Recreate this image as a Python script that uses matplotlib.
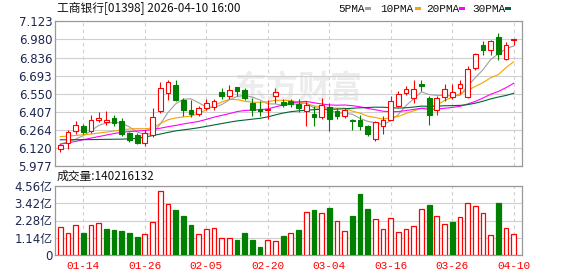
import matplotlib
matplotlib.use("Agg")
import matplotlib.pyplot as plt
from matplotlib.patches import Rectangle
import numpy as np
import pandas as pd

# ---------------- data ----------------
dates = ["01-09", "01-12", "01-13", "01-14", "01-15", "01-16", "01-19", "01-20", "01-21", "01-22",
         "01-23", "01-26", "01-27", "01-28", "01-29", "01-30", "02-02", "02-03", "02-04", "02-05",
         "02-06", "02-09", "02-10", "02-11", "02-12", "02-13", "02-16", "02-20", "02-23", "02-24",
         "02-25", "02-26", "02-27", "03-02", "03-03", "03-04", "03-05", "03-06", "03-09", "03-10",
         "03-11", "03-12", "03-13", "03-16", "03-17", "03-18", "03-19", "03-20", "03-23", "03-24",
         "03-25", "03-26", "03-27", "03-30", "03-31", "04-01", "04-02", "04-08", "04-09", "04-10"]

opens = [6.108, 6.159, 6.251, 6.297, 6.255, 6.342, 6.322, 6.358, 6.330, 6.235,
         6.224, 6.161, 6.222, 6.412, 6.555, 6.621, 6.498, 6.420, 6.386, 6.438,
         6.446, 6.564, 6.530, 6.603, 6.582, 6.472, 6.430, 6.417, 6.530, 6.483,
         6.490, 6.465, 6.413, 6.387, 6.369, 6.447, 6.410, 6.376, 6.340, 6.340,
         6.290, 6.188, 6.290, 6.345, 6.449, 6.557, 6.513, 6.630, 6.513, 6.421,
         6.526, 6.526, 6.596, 6.526, 6.753, 6.936, 6.897, 6.996, 6.826, 6.975]
highs = [6.155, 6.259, 6.335, 6.310, 6.379, 6.403, 6.410, 6.379, 6.361, 6.246,
         6.235, 6.262, 6.436, 6.640, 6.662, 6.660, 6.517, 6.498, 6.451, 6.509,
         6.511, 6.595, 6.621, 6.605, 6.595, 6.517, 6.490, 6.500, 6.595, 6.509,
         6.507, 6.505, 6.490, 6.452, 6.518, 6.478, 6.440, 6.438, 6.353, 6.380,
         6.304, 6.335, 6.370, 6.530, 6.570, 6.610, 6.662, 6.662, 6.531, 6.531,
         6.628, 6.629, 6.662, 6.771, 6.871, 6.967, 6.975, 7.033, 6.962, 6.984]
lows = [6.088, 6.112, 6.233, 6.233, 6.238, 6.324, 6.303, 6.295, 6.217, 6.170,
        6.154, 6.133, 6.206, 6.395, 6.500, 6.490, 6.373, 6.368, 6.373, 6.420,
        6.420, 6.511, 6.511, 6.530, 6.503, 6.373, 6.373, 6.352, 6.477, 6.446,
        6.448, 6.408, 6.296, 6.296, 6.353, 6.258, 6.353, 6.358, 6.264, 6.264,
        6.217, 6.178, 6.230, 6.338, 6.445, 6.539, 6.479, 6.569, 6.301, 6.382,
        6.492, 6.509, 6.544, 6.518, 6.740, 6.858, 6.858, 6.813, 6.818, 6.936]
closes = [6.140, 6.246, 6.301, 6.248, 6.342, 6.358, 6.340, 6.320, 6.228, 6.183,
          6.161, 6.238, 6.365, 6.595, 6.642, 6.503, 6.420, 6.386, 6.438, 6.472,
          6.490, 6.530, 6.577, 6.569, 6.517, 6.420, 6.415, 6.425, 6.564, 6.459,
          6.465, 6.434, 6.458, 6.368, 6.458, 6.350, 6.374, 6.419, 6.333, 6.296,
          6.230, 6.322, 6.338, 6.488, 6.550, 6.583, 6.589, 6.610, 6.382, 6.518,
          6.583, 6.565, 6.630, 6.745, 6.863, 6.892, 6.967, 6.863, 6.936, 6.981]
# volume in 亿 (1e8) shares
volumes = [1.87, 1.43, 1.96, 1.43, 1.96, 2.09, 1.70, 1.65, 1.59, 1.43,
           1.19, 1.37, 2.18, 4.23, 3.35, 2.97, 2.58, 1.98, 1.37, 1.70,
           1.76, 1.10, 1.10, 0.99, 1.45, 0.99, 0.53, 0.99, 0.93, 1.26,
           1.43, 1.65, 2.84, 2.97, 2.75, 3.11, 2.25, 1.59, 2.58, 4.03,
           3.04, 2.36, 1.70, 2.45, 1.50, 1.70, 1.92, 3.04, 3.30, 2.58,
           2.05, 2.20, 2.49, 3.44, 3.24, 2.78, 1.32, 3.44, 1.78, 1.40]

# moving-average values at the left edge (window reaches before first bar)
ma5_head = [6.150, 6.168, 6.190, 6.218]
ma10_head = [6.210, 6.214, 6.219, 6.224, 6.230, 6.238, 6.246, 6.254, 6.262]
ma20_head = [6.150, 6.160, 6.172, 6.185, 6.198, 6.210, 6.222, 6.234, 6.244, 6.250,
             6.254, 6.258, 6.266, 6.276, 6.288, 6.298, 6.310, 6.320, 6.330]
ma30_head = [6.185, 6.185, 6.185, 6.186, 6.186, 6.187, 6.188, 6.189, 6.190, 6.192,
             6.196, 6.206, 6.218, 6.230, 6.243, 6.255, 6.263, 6.271, 6.280, 6.291,
             6.302, 6.313, 6.324, 6.334, 6.341, 6.348, 6.355, 6.366, 6.382]

label_dates = ["01-14", "01-26", "02-05", "02-20", "03-04", "03-16", "03-26", "04-10"]
price_ticks = [5.977, 6.120, 6.264, 6.407, 6.550, 6.693, 6.836, 6.980, 7.123]
vol_ticks = [0, 1.14, 2.28, 3.42, 4.56]
vol_tick_labels = ["0", "1.14亿", "2.28亿", "3.42亿", "4.56亿"]
last_volume_text = "成交量:140216132"
title_text = "工商银行[01398] 2026-04-10 16:00"
ma_names = ["5PMA", "10PMA", "20PMA", "30PMA"]

# ---------------- style ----------------
RED = "#ff0000"
GREEN = "#008000"
MA_COLORS = ["#a0a0a0", "#f5a300", "#ff00ff", "#006633"]
GRID = "#cfcfcf"
FRAME = "#999999"
TICKC = "#1c2650"

W, H = 578, 276
fig = plt.figure(figsize=(W / 100, H / 100), dpi=100)
fig.patch.set_facecolor("white")

def fx(px):
    return px / W

def fy(py):
    return 1 - py / H

ax1 = fig.add_axes([fx(55), fy(166), fx(467), (166 - 21.3) / H])
ax2 = fig.add_axes([fx(55), fy(255), fx(467), (255 - 186) / H])

n = len(dates)
x = np.arange(n)
o = np.array(opens); c = np.array(closes); hi = np.array(highs); lo = np.array(lows)
up = c >= o

xlim = (-0.69, 60.08)
for ax in (ax1, ax2):
    ax.set_xlim(*xlim)
    for s in ax.spines.values():
        s.set_color(FRAME)
        s.set_linewidth(0.9)
    ax.tick_params(length=0)
    label_idx = [dates.index(d) for d in label_dates]
    for li in label_idx:
        ax.axvline(li, color=GRID, lw=0.8, ls=(0, (3, 3)), zorder=0)

# watermark
ax1.text(0.52, 0.53, "东方财富", transform=ax1.transAxes, fontsize=23, fontweight="bold",
         color="#ececec", ha="center", va="center", family=["Noto Sans CJK SC"], zorder=0)

# price panel
ax1.set_ylim(price_ticks[0], price_ticks[-1])
ax1.set_yticks(price_ticks)
ax1.set_yticklabels([f"{t:.3f}" for t in price_ticks])
ax1.yaxis.grid(True, color=GRID, lw=0.8, zorder=0)
ax1.set_xticks([])

bw = 0.62
for i in range(n):
    col = RED if up[i] else GREEN
    ax1.vlines(x[i], lo[i], hi[i], color=col, lw=0.8, zorder=3)
    bot = min(o[i], c[i]); h = max(abs(c[i] - o[i]), 0.002)
    ax1.add_patch(Rectangle((x[i] - bw / 2, bot), bw, h,
                            facecolor="white" if up[i] else GREEN,
                            edgecolor=col, lw=0.8, zorder=4))

s = pd.Series(closes)
heads = [ma5_head, ma10_head, ma20_head, ma30_head]
for win, head, colr in zip([5, 10, 20, 30], heads, MA_COLORS):
    ma = s.rolling(win).mean().to_numpy()
    ma[:win - 1] = head
    ax1.plot(x, ma, color=colr, lw=0.8, zorder=2)

# volume panel
ax2.set_ylim(0, vol_ticks[-1])
ax2.set_yticks(vol_ticks)
ax2.set_yticklabels(vol_tick_labels)
ax2.yaxis.grid(True, color=GRID, lw=0.8, zorder=0)
vol_up = np.concatenate([[True], np.diff(c) >= 0])
for i in range(n):
    if vol_up[i]:
        ax2.bar(x[i], volumes[i], width=bw, facecolor="white", edgecolor=RED, lw=0.9, zorder=3)
    else:
        ax2.bar(x[i], volumes[i], width=bw, facecolor=GREEN, edgecolor=GREEN, lw=0.9, zorder=3)
ax2.set_xticks(label_idx)
ax2.set_xticklabels(label_dates, color=RED, fontsize=8, family=["Liberation Mono"])
ax2.tick_params(axis="x", pad=4)

for ax in (ax1, ax2):
    for lab in ax.get_yticklabels():
        lab.set_color(TICKC)
        lab.set_fontsize(8.5)
        lab.set_family(["DejaVu Sans", "Noto Sans CJK SC"])
    ax.tick_params(axis="y", pad=2)

# texts
fig.text(fx(57), fy(8.5), title_text, fontsize=8.5, va="center", ha="left",
         family=["Noto Sans CJK SC"], color="#111111")
fig.text(fx(57), fy(176.5), last_volume_text, fontsize=8.5, va="center", ha="left",
         family=["Noto Sans CJK SC", "DejaVu Sans"], color="#111111")

leg_text_x = [338, 380, 426, 472]
leg_mark_x = [365, 415, 459, 505]
for name, colr, tx, mx in zip(ma_names, MA_COLORS, leg_text_x, leg_mark_x):
    fig.text(fx(tx), fy(8.5), name, fontsize=8, va="center", ha="left",
             family=["Liberation Mono"], color="#111111")
    fig.patches.append(Rectangle((fx(mx), fy(10)), fx(6), 3 / H, transform=fig.transFigure,
                                 facecolor=colr, edgecolor="none"))

fig.savefig("out.png", dpi=100, facecolor="white")
